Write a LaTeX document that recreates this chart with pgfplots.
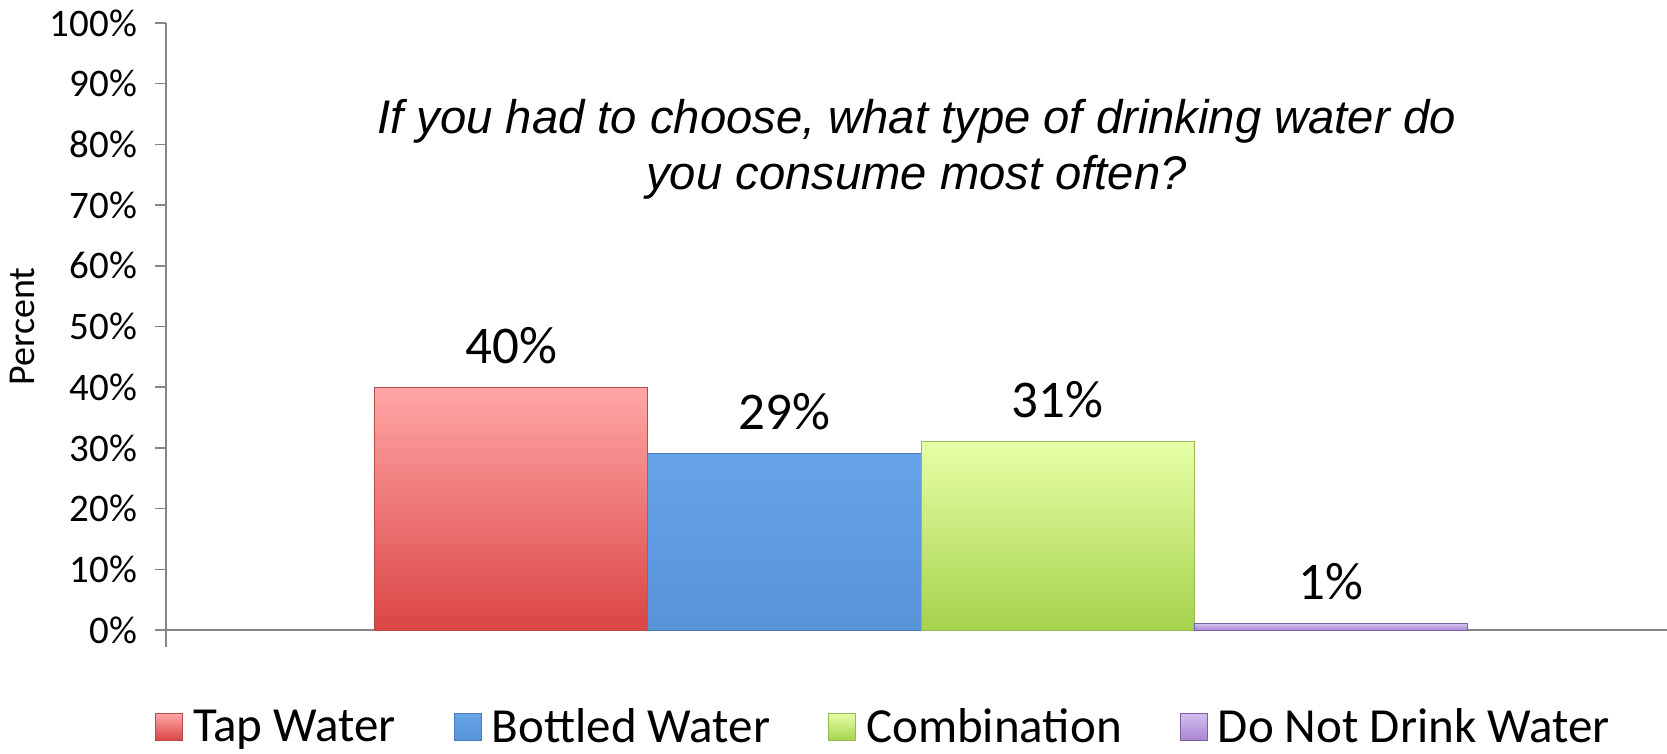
\documentclass[border=0pt]{standalone}
\usepackage{fontspec}
\setmainfont{Carlito}
\newfontfamily\titlefont{Liberation Sans}
\usepackage{pgfplots}
\pgfplotsset{compat=1.18}
\definecolor{axgray}{HTML}{868686}
\definecolor{taptop}{HTML}{FFA6A6}
\definecolor{tapbot}{HTML}{DB4545}
\definecolor{tapedge}{HTML}{B84A48}
\definecolor{bottop}{HTML}{66A3E8}
\definecolor{botbot}{HTML}{5893D8}
\definecolor{botedge}{HTML}{4A7EBB}
\definecolor{comtop}{HTML}{E6FFA6}
\definecolor{combot}{HTML}{A6D24C}
\definecolor{comedge}{HTML}{98B954}
\definecolor{dntop}{HTML}{D3BDF0}
\definecolor{dnbot}{HTML}{A886D2}
\definecolor{dnedge}{HTML}{7D60A0}
\pgfplotsset{sqleg/.style={legend image code/.code={\draw[##1, line width=0.5bp] (0bp,-6.75bp) rectangle (13.5bp,6.75bp);}}}
\begin{document}
\begin{tikzpicture}
\begin{axis}[
  name=ax,
  scale only axis,
  width=750.5bp, height=303.5bp,
  ybar=0pt, bar width=136.6bp,
  xmin=-1.006, xmax=0.994,
  ymin=0, ymax=100,
  axis x line=bottom, axis y line=left,
  axis line style={draw=axgray, line width=0.75bp, -},
  xtick=\empty,
  ytick={0,10,...,100},
  yticklabel={\pgfmathprintnumber{\tick}\%},
  /pgf/number format/assume math mode=true,
  tick align=outside,
  major tick length=5.5bp,
  ytick style={draw=axgray, line width=0.75bp},
  yticklabel style={font=\fontsize{19.5bp}{21bp}\selectfont, xshift=-5.5bp},
  ylabel={Percent},
  every axis y label/.style={at={(axis description cs:-0.0953,0.5)}, rotate=90, anchor=center, font=\fontsize{19bp}{22bp}\selectfont},
  clip=false,
  nodes near coords={\pgfmathprintnumber{\pgfplotspointmeta}\%},
  every node near coord/.append style={font=\fontsize{26.5bp}{28bp}\selectfont, anchor=center, yshift=21bp, black},
  legend columns=4,
  legend style={at={(0.4807,-0.1598)}, anchor=center, draw=none, fill=none,
    font=\fontsize{24.5bp}{26bp}\selectfont,
    /tikz/every odd column/.append style={column sep=0bp},
    /tikz/every even column/.append style={column sep=24bp},
    nodes={inner xsep=5bp}},
  every axis plot/.append style={sqleg},
]
\addplot[top color=taptop, bottom color=tapbot, draw=tapedge, line width=0.5bp] coordinates {(0,40)};
\addlegendentry{Tap Water}
\addplot[top color=bottop, bottom color=botbot, draw=botedge, line width=0.5bp] coordinates {(0,29)};
\addlegendentry{Bottled Water}
\addplot[top color=comtop, bottom color=combot, draw=comedge, line width=0.5bp] coordinates {(0,31)};
\addlegendentry{Combination}
\addplot[top color=dntop, bottom color=dnbot, draw=dnedge, line width=0.5bp] coordinates {(0,1)};
\addlegendentry{Do Not Drink Water}
\node[font=\titlefont\itshape\fontsize{23.6bp}{28bp}\selectfont, align=center] at (rel axis cs:0.5,0.792) {If you had to choose, what type of drinking water do\\you consume most often?};
\draw[axgray, line width=0.75bp] (rel axis cs:0,0) -- ([yshift=-8.5bp]rel axis cs:0,0);
\end{axis}
\pgfresetboundingbox
\path ([xshift=-83bp,yshift=11.5bp]ax.north west) rectangle ([yshift=-62bp]ax.south east);
\end{tikzpicture}
\end{document}
